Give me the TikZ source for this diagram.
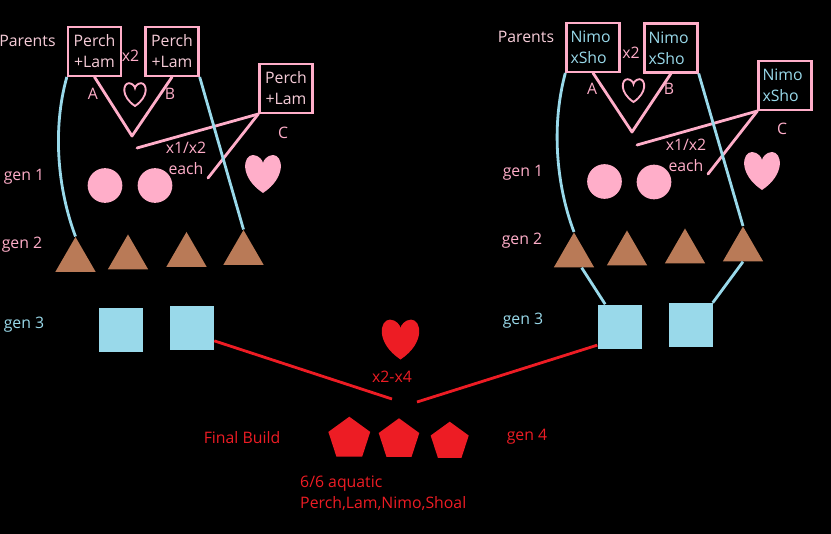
\documentclass[tikz,border=0pt]{standalone}
\usepackage{fontspec}
\setmainfont{Open Sans}
\usetikzlibrary{shapes.geometric}
\definecolor{rose}{HTML}{FFAEC9}
\definecolor{palerose}{HTML}{F6CCD8}
\definecolor{paleblue}{HTML}{99D9EA}
\definecolor{clay}{HTML}{B97A57}
\definecolor{brightred}{HTML}{ED1C24}
\begin{document}
\begin{tikzpicture}[x=0.03cm, y=-0.03cm, font=\fontsize{13.5}{18}\selectfont,
  pbox/.style={draw=rose, line width=2pt, minimum width=1.59cm, minimum height=1.46cm, align=center, inner sep=1pt, text=palerose},
  nbox/.style={draw=rose, line width=2pt, text width=1.35cm, minimum height=1.46cm, align=left, inner xsep=0.12cm, text=paleblue},
  ball/.style={circle, fill=rose, minimum size=1.04cm, inner sep=0},
  tri/.style={regular polygon, regular polygon sides=3, fill=clay, minimum size=1.4cm, inner sep=0},
  sq/.style={fill=paleblue, minimum size=1.32cm, inner sep=0},
  pent/.style={regular polygon, regular polygon sides=5, fill=brightred, inner sep=0},
  pinkline/.style={draw=rose, line width=2.4pt, line join=round, line cap=round},
  blueline/.style={draw=paleblue, line width=2.4pt},
  redline/.style={draw=brightred, line width=2.4pt},
  heart/.pic={\path[pic actions] (0,10) .. controls (-12,2) and (-10,-9) .. (-5,-9) .. controls (-2,-9) and (0,-6) .. (0,-5) .. controls (0,-6) and (2,-9) .. (5,-9) .. controls (10,-9) and (12,2) .. (0,10) -- cycle;}]
\fill[black] (0,0) rectangle (831,534);
\useasboundingbox (0,0) rectangle (831,534);
% left family
\node[text=palerose] (lpar) at (27.5,41) {Parents};
\node[pbox] (lpa) at (94.5,51.5) {Perch\\+Lam};
\node[pbox] (lpb) at (172,51.5) {Perch\\+Lam};
\node[pbox] (lpc) at (286,88.5) {Perch\\+Lam};
\node[text=rose] (lx2) at (130.5,56) {x2};
\node[text=rose] (la) at (93,94) {A};
\node[text=rose] (lb) at (170,94) {B};
\node[text=rose] (lc) at (283,133) {C};
\node[text=rose, align=center] (leach) at (186,158) {x1/x2\\each};
\pic[draw=rose, line width=1.6pt, scale=1.2] at (135,94) {heart};
\coordinate (lv) at (132,136);
\coordinate (lc1e) at (137,148);
\coordinate (lc2e) at (208,178);
\draw[pinkline] (lpa.south) -- (lv) -- (lpb.south);
\draw[pinkline] (lpc.south west) -- (lc1e);
\draw[pinkline] (lpc.south west) -- (lc2e);
\node[text=rose] (lg1) at (24,177) {gen 1};
\node[ball] (lb1) at (105,185.5) {};
\node[ball] (lb2) at (155,185.5) {};
\pic[fill=rose, scale=2] at (263,173) {heart};
\node[text=rose] (lg2) at (22,245) {gen 2};
\node[tri] (lt1) at (75.5,260.3) {};
\node[tri] (lt2) at (128,257.8) {};
\node[tri] (lt3) at (186.5,255.3) {};
\node[tri] (lt4) at (243.5,253.3) {};
\draw[blueline] (lpa.south west) .. controls (52,130) and (58,190) .. (lt1.north);
\draw[blueline] (lpb.south east) -- (lt4.north);
\node[text=paleblue] (lg3) at (24,325) {gen 3};
\node[sq] (ls1) at (121,330) {};
\node[sq] (ls2) at (192,328) {};
% right family
\node[text=palerose] (rpar) at (526,37) {Parents};
\node[nbox] (rpa) at (593,47.5) {Nimo\\xSho};
\node[nbox] (rpb) at (671,48) {Nimo\\xSho};
\node[nbox] (rpc) at (785,85.5) {Nimo\\xSho};
\node[text=rose] (rx2) at (631,53) {x2};
\node[text=rose] (ra) at (592,89) {A};
\node[text=rose] (rb) at (669,89) {B};
\node[text=rose] (rc) at (782,129) {C};
\node[text=rose, align=center] (reach) at (686,155) {x1/x2\\each};
\pic[draw=rose, line width=1.6pt, scale=1.2] at (633.5,90) {heart};
\coordinate (rv) at (632,132);
\coordinate (rc1e) at (637,145);
\coordinate (rc2e) at (708,174);
\draw[pinkline] (rpa.south) -- (rv) -- (rpb.south);
\draw[pinkline] (rpc.south west) -- (rc1e);
\draw[pinkline] (rpc.south west) -- (rc2e);
\node[text=rose] (rg1) at (523,173) {gen 1};
\node[ball] (rb1) at (604.5,181.5) {};
\node[ball] (rb2) at (654,182) {};
\pic[fill=rose, scale=2] at (762,170) {heart};
\node[text=rose] (rg2) at (522,241) {gen 2};
\node[tri] (rt1) at (574,255.8) {};
\node[tri] (rt2) at (627,253.8) {};
\node[tri] (rt3) at (685,251.8) {};
\node[tri] (rt4) at (743,249.8) {};
\draw[blueline] (rpa.south west) .. controls (550,130) and (558,190) .. (rt1.north);
\draw[blueline] (rpb.south east) -- (rt4.north);
\node[text=paleblue] (rg3) at (523,321) {gen 3};
\node[sq] (rs1) at (619.5,326.5) {};
\node[sq] (rs2) at (690.5,325) {};
\draw[blueline] (rt1) -- (rs1);
\draw[blueline] (rt4.south) -- (rs2.north east);
% final build
\pic[fill=brightred, scale=2.1] at (400.5,338.5) {heart};
\node[text=brightred] (fx) at (392,377) {x2-x4};
\coordinate (fl) at (392,399);
\coordinate (fr) at (417,402);
\draw[redline] (ls2.-30) -- (fl);
\draw[redline] (fr) -- (rs1.220);
\node[text=brightred] (ffinal) at (242,438) {Final Build};
\node[pent, minimum size=1.32cm] (fp1) at (349.3,438.7) {};
\node[pent, minimum size=1.28cm] (fp2) at (399,439.6) {};
\node[pent, minimum size=1.2cm] (fp3) at (449.7,441.7) {};
\node[text=brightred] (fg4) at (527,437) {gen 4};
\node[text=brightred, anchor=west, inner sep=0] (fa1) at (300,484) {6/6 aquatic};
\node[text=brightred, anchor=west, inner sep=0] (fa2) at (300,504) {Perch,Lam,Nimo,Shoal};
\end{tikzpicture}
\end{document}
